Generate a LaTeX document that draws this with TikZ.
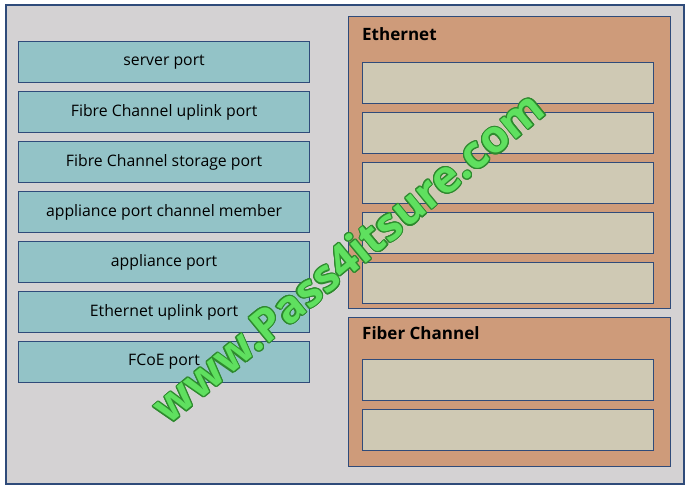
\documentclass[tikz,border=0pt]{standalone}
\usepackage{fontspec}
\setmainfont{Open Sans}
\usepackage[copies]{contour}
\contournumber{16}
\definecolor{bg}{HTML}{D4D2D3}
\definecolor{teal}{HTML}{93C3C7}
\definecolor{navy}{HTML}{2F4B7A}
\definecolor{orng}{HTML}{CE9B7A}
\definecolor{beige}{HTML}{CFC9B4}
\definecolor{wmgreen}{HTML}{5FE05F}
\definecolor{wmdark}{HTML}{2E8A2E}
\begin{document}
\begin{tikzpicture}[x=1pt,y=-1pt,
  portbox/.style={draw=navy,line width=1.2pt,fill=teal,minimum width=291pt,minimum height=41pt,anchor=north west,inner sep=0pt,font=\fontsize{15.8}{18}\selectfont},
  slotbox/.style={draw=navy,line width=1.2pt,fill=beige,minimum width=291pt,minimum height=41pt,anchor=north west,inner sep=0pt},
  panel/.style={draw=navy,line width=1pt,fill=orng},
  paneltitle/.style={anchor=west,font=\bfseries\fontsize{17}{19}\selectfont,inner sep=0pt}]
\useasboundingbox (0,0) rectangle (691,489);
\fill[white] (0,0) rectangle (691,489);
\draw[navy,line width=1.5pt,fill=bg] (6,5) rectangle (684,484);
% left port boxes
\node[portbox] (p1) at (18,41) {server port};
\node[portbox] (p2) at (18,91) {Fibre Channel uplink port};
\node[portbox] (p3) at (18,141) {Fibre Channel storage port};
\node[portbox] (p4) at (18,191) {appliance port channel member};
\node[portbox] (p5) at (18,241) {appliance port};
\node[portbox] (p6) at (18,291) {Ethernet uplink port};
\node[portbox] (p7) at (18,341) {FCoE port};
% Ethernet panel
\draw[panel] (348,17) rectangle (670,308);
\node[paneltitle] (eth) at (362,34) {Ethernet};
\node[slotbox] (e1) at (362,62) {};
\node[slotbox] (e2) at (362,112) {};
\node[slotbox] (e3) at (362,162) {};
\node[slotbox] (e4) at (362,212) {};
\node[slotbox] (e5) at (362,262) {};
% Fiber Channel panel
\draw[panel] (348,317) rectangle (670,466);
\node[paneltitle] (fc) at (362,333) {Fiber Channel};
\node[slotbox] (f1) at (362,359) {};
\node[slotbox] (f2) at (362,409) {};
% watermark
\contourlength{1.1pt}
\node[rotate=39.5,font=\fontspec{Open Sans Bold}\fontsize{45}{48}\selectfont,inner sep=0pt] (wm) at (348,257)
  {\contour{wmdark}{\textcolor{wmgreen}{www.Pass4itsure.com}}};
\end{tikzpicture}
\end{document}
